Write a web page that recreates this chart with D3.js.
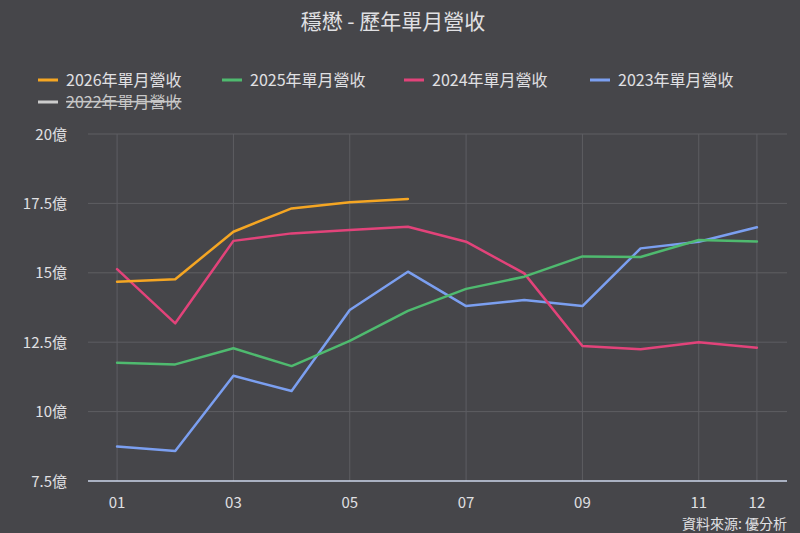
<!DOCTYPE html>
<html><head><meta charset="utf-8">
<script src="https://cdn.jsdelivr.net/npm/d3@7"></script>
<style>
html,body{margin:0;padding:0;background:#46464a;}
svg{display:block;font-family:"Noto Sans CJK TC","Noto Sans",sans-serif;}
</style></head>
<body><svg id="c" width="800" height="533"></svg>
<script>
const months = ["01","02","03","04","05","06","07","08","09","10","11","12"];
const tickLabels = ["01","03","05","07","09","11","12"];
const yTicks = [7.5,10,12.5,15,17.5,20];
const seriesNames = ["2026年單月營收","2025年單月營收","2024年單月營收","2023年單月營收","2022年單月營收"];
const seriesColors = ["#f5a623","#4fba6f","#e2437a","#7b9ff0","#dddddd"];
const s2026 = [14.68,14.77,16.48,17.32,17.54,17.66];
const s2025 = [11.76,11.70,12.28,11.64,12.55,13.63,14.42,14.86,15.59,15.57,16.18,16.13];
const s2024 = [15.13,13.18,16.15,16.42,16.54,16.66,16.12,14.98,12.36,12.25,12.50,12.30];
const s2023 = [8.74,8.58,11.29,10.74,13.66,15.04,13.80,14.02,13.80,15.88,16.12,16.64];
const s2022 = [];
const hidden = [false,false,false,false,true];
const allSeries = [s2026,s2025,s2024,s2023,s2022];

const svg = d3.select("#c");
svg.append("rect").attr("width",800).attr("height",533).attr("fill","#46464a");

const pL = 88, pR = 786, pT = 134, pB = 481;
const x = d3.scalePoint().domain(months).range([pL,pR]).padding(0.5);
const y = d3.scaleLinear().domain([7.5,20]).range([pB,pT]);

// title
svg.append("text").attr("x",393).attr("y",29).attr("text-anchor","middle")
  .attr("fill","#e0e0e3").attr("font-size",21).text("穩懋 - 歷年單月營收");

// grid horizontal
const g = svg.append("g");
g.selectAll("line.h").data(yTicks.filter(d=>d>7.5)).join("line")
  .attr("x1",pL).attr("x2",pR+1).attr("y1",d=>y(d)).attr("y2",d=>y(d))
  .attr("stroke","#5e5e62").attr("stroke-width",1);
// grid vertical
g.selectAll("line.v").data(tickLabels).join("line")
  .attr("x1",d=>x(d)).attr("x2",d=>x(d)).attr("y1",pT).attr("y2",pB)
  .attr("stroke","#5e5e62").attr("stroke-width",1);

// y labels
svg.append("g").selectAll("text").data(yTicks).join("text")
  .attr("x",67).attr("y",d=>y(d)+5.5).attr("text-anchor","end")
  .attr("fill","#e0e0e3").attr("font-size",15)
  .text(d=>d+"億");

// x axis line
svg.append("line").attr("x1",pL).attr("x2",pR+1).attr("y1",pB).attr("y2",pB)
  .attr("stroke","#ccd6eb").attr("stroke-width",1.5);
svg.append("g").selectAll("text").data(tickLabels).join("text")
  .attr("x",d=>x(d)).attr("y",508).attr("text-anchor","middle")
  .attr("fill","#e0e0e3").attr("font-size",15).text(d=>d);

// lines
const line = d3.line().x((d,i)=>x(months[i])).y(d=>y(d));
[3,2,1,0].forEach(i=>{
  const s = allSeries[i];
  if(hidden[i] || !s.length) return;
  svg.append("path").datum(s).attr("d",line).attr("fill","none")
    .attr("stroke",seriesColors[i]).attr("stroke-width",2.5)
    .attr("stroke-linejoin","round").attr("stroke-linecap","round");
});

// legend
const legPos = [[38,80],[222,80],[404,80],[590,80],[38,102]];
const lg = svg.append("g");
seriesNames.forEach((n,i)=>{
  const [lx,ly] = legPos[i];
  lg.append("line").attr("x1",lx).attr("x2",lx+20).attr("y1",ly).attr("y2",ly)
    .attr("stroke",hidden[i]?"#cccccc":seriesColors[i]).attr("stroke-width",3);
  lg.append("text").attr("x",lx+28).attr("y",ly+6).attr("fill",hidden[i]?"#c8c8c8":"#e0e0e3")
    .attr("font-size",16).attr("text-decoration",hidden[i]?"line-through":null).text(n);
});

// credits
svg.append("text").attr("x",787).attr("y",529).attr("text-anchor","end")
  .attr("fill","#e0e0e3").attr("font-size",14).text("資料來源: 優分析");
</script></body></html>
